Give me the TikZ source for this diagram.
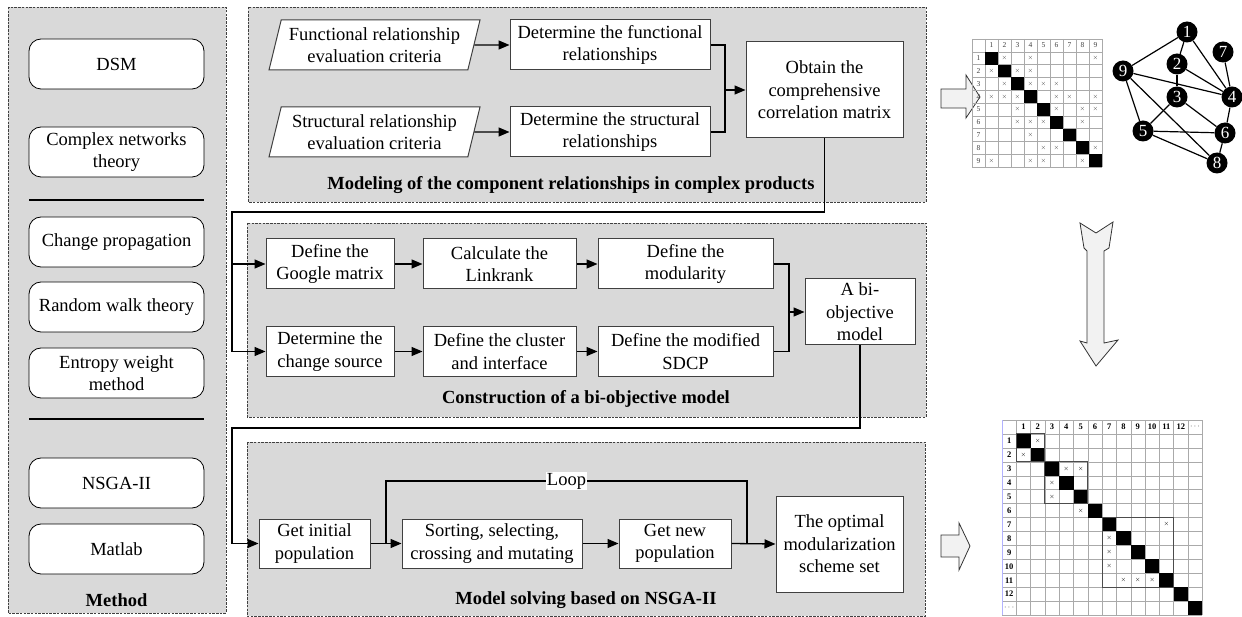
\documentclass[tikz,border=0pt]{standalone}
\usepackage{fontspec}
\setmainfont{Liberation Serif}
\usepackage{tikz}
\usetikzlibrary{calc, shapes.geometric, positioning, arrows.meta}

\definecolor{panelgray}{RGB}{217,217,217}
\definecolor{arrowgray}{RGB}{242,242,242}
\definecolor{framegray}{RGB}{64,64,64}
\definecolor{gridgray}{RGB}{170,170,170}

\begin{document}
\begin{tikzpicture}[x=1pt,y=-1pt,
  font=\fontsize{18.5}{22.5}\selectfont,
  panel/.style={draw=framegray, dash pattern=on 2.5pt off 1.2pt, fill=panelgray, line width=0.7pt},
  method/.style={draw=black, fill=white, rounded corners=12pt, minimum width=175, minimum height=50, align=center, inner sep=1pt, line width=0.8pt},
  box/.style={draw=framegray, fill=white, align=center, inner sep=1pt, line width=1pt},
  para/.style={trapezium, trapezium left angle=72, trapezium right angle=108, trapezium stretches body=true, draw=framegray, fill=white, align=center, inner sep=1pt, line width=1pt, minimum width=211, minimum height=50},
  title/.style={font=\fontsize{18.5}{22.5}\selectfont\bfseries},
  line/.style={line width=1.3pt},
  conn/.style={line width=1.3pt, -{Triangle[length=11pt,width=9pt]}},
  gnode/.style={circle, fill=black, text=white, minimum size=21, inner sep=0pt, font=\fontsize{17}{17}\selectfont},
  bigarrow/.style={draw=black!80, fill=arrowgray, line width=0.8pt, line join=miter}]
\useasboundingbox (0,0) rectangle (1242,617);

% panels
\draw[panel] (8,7) rectangle (226,613);
\draw[panel] (248,7) rectangle (926,202);
\draw[panel] (247,223) rectangle (926,417);
\draw[panel] (247,442) rectangle (925,616);

% method column
\node[method] (dsm) at (116.5,64) {DSM};
\node[method] (cnt) at (116.5,152) {Complex networks\\theory};
\draw[line] (29,200) -- (204,200);
\node[method] (chp) at (116.5,242) {Change propagation};
\node[method] (rwt) at (116.5,307) {Random walk theory};
\node[method] (ewm) at (116.5,373) {Entropy weight\\method};
\draw[line] (29,419) -- (204,419);
\node[method] (nsga) at (116.5,483) {NSGA-II};
\node[method] (mat) at (116.5,549) {Matlab};
\node[title] (mtitle) at (116.5,600) {Method};

% modeling of the component relationships
\node[para] (funcr) at (374.5,45) {Functional relationship\\evaluation criteria};
\node[para] (strcr) at (374.5,132) {Structural relationship\\evaluation criteria};
\node[box, minimum width=200, minimum height=50] (detf) at (610,45) {Determine the functional\\relationships};
\node[box, minimum width=200, minimum height=50] (dets) at (610,132) {Determine the structural\\relationships};
\node[box, minimum width=157, minimum height=96] (obtain) at (824.5,90) {Obtain the\\comprehensive\\correlation matrix};
\node[title] (t1) at (571,185) {Modeling of the component relationships in complex products};
\coordinate (j1) at (725,90);
\draw[conn] (funcr.east) -- (detf.west);
\draw[conn] (strcr.east) -- (dets.west);
\draw[line] (detf.east) -| (j1) |- (dets.east);
\draw[conn] (j1) -- (obtain.west);

% construction of a bi-objective model
\node[box, minimum width=128, minimum height=50] (google) at (330,264) {Define the\\Google matrix};
\node[box, minimum width=153, minimum height=50] (linkr) at (499.5,264) {Calculate the\\Linkrank};
\node[box, minimum width=175, minimum height=50] (modu) at (685.5,264) {Define the\\modularity};
\node[box, minimum width=128, minimum height=50] (chsrc) at (330,351.5) {Determine the\\change source};
\node[box, minimum width=153, minimum height=50] (clus) at (499.5,351.5) {Define the cluster\\and interface};
\node[box, minimum width=175, minimum height=50] (sdcp) at (685.5,351.5) {Define the modified\\SDCP};
\node[box, minimum width=110, minimum height=66] (biobj) at (860,312) {A bi-\\objective\\model};
\node[title] (t2) at (586,399) {Construction of a bi-objective model};
\coordinate (c1) at (232,212);
\coordinate (j2) at (789,312);
\draw[conn] (obtain.south) |- (c1) |- (chsrc.west);
\draw[conn] (c1) |- (google.west);
\draw[conn] (google.east) -- (linkr.west);
\draw[conn] (linkr.east) -- (modu.west);
\draw[conn] (chsrc.east) -- (clus.west);
\draw[conn] (clus.east) -- (sdcp.west);
\draw[line] (modu.east) -| (j2) |- (sdcp.east);
\draw[conn] (j2) -- (biobj.west);

% model solving based on NSGA-II
\node[box, minimum width=111, minimum height=49] (init) at (314.5,543.5) {Get initial\\population};
\node[box, minimum width=180, minimum height=49] (sort) at (492,543.5) {Sorting, selecting,\\crossing and mutating};
\node[box, minimum width=112, minimum height=49] (newp) at (675,543.5) {Get new\\population};
\node[box, minimum width=127, minimum height=96] (opt) at (839.5,544) {The optimal\\modularization\\scheme set};
\node[title] (t3) at (586,600) {Model solving based on NSGA-II};
\coordinate (c2) at (232,428);
\coordinate (j3) at (386,543.5);
\coordinate (j4) at (747,543.5);
\coordinate (l1) at (386,481);
\coordinate (l2) at (747,481);
\draw[conn] (biobj.south) |- (c2) |- (init.west);
\draw[conn] (init.east) -- (sort.west);
\draw[conn] (sort.east) -- (newp.west);
\draw[line] (j3) -- (l1) -- node[fill=white, inner sep=1pt] (loop) {Loop} (l2) -- (j4);
\draw[conn] (newp.east) -- (opt.west);

% big arrows
\draw[bigarrow] (941,89) -- (966,89) -- (966,75) -- (980,97) -- (966,118) -- (966,108) -- (941,108) -- cycle;
\draw[bigarrow] (941,535) -- (959,535) -- (959,523) -- (970,546) -- (959,570) -- (959,557) -- (941,557) -- cycle;
\draw[bigarrow] (1080,223) -- (1096,233) -- (1113,222) -- (1109,248) -- (1104,251) -- (1104,343) -- (1118,340) -- (1096,366) -- (1080,341) -- (1087,343) -- (1087,251) -- (1084,248) -- cycle;

% DSM of the product
\begin{scope}[shift={(972,39)}, x=13pt, y=-12.8pt]
  \foreach \k in {0,...,10} {
    \draw[gridgray, line width=0.4pt] (\k,0) -- (\k,10);
    \draw[gridgray, line width=0.4pt] (0,\k) -- (10,\k);
  }
  \foreach \n in {1,...,9} {
    \fill (\n,\n) rectangle ++(1,1);
    \node[font=\fontsize{7.5}{7.5}\selectfont, text=black!75] at (\n+0.5,0.5) {\n};
    \node[font=\fontsize{7.5}{7.5}\selectfont, text=black!75] at (0.5,\n+0.5) {\n};
  }
  \foreach \r/\c in {1/2,1/4,1/9,2/1,2/3,2/4,3/2,3/4,3/5,3/6,4/1,4/2,4/3,4/6,4/7,4/9,5/3,5/6,5/8,5/9,6/3,6/4,6/5,6/8,7/4,8/5,8/6,8/9,9/1,9/4,9/5,9/8}
    \node[font=\fontsize{6}{6}\selectfont, text=black!75, inner sep=0pt] at (\c+0.5,\r+0.5) {$\times$};
\end{scope}

% network of the product
\node[gnode] (g1) at (1187,32) {1};
\node[gnode] (g2) at (1177,64) {2};
\node[gnode] (g3) at (1177,97) {3};
\node[gnode] (g4) at (1232,97) {4};
\node[gnode] (g5) at (1143,131) {5};
\node[gnode] (g6) at (1225,133) {6};
\node[gnode] (g7) at (1223,52) {7};
\node[gnode] (g8) at (1217,163) {8};
\node[gnode] (g9) at (1123,71) {9};
\foreach \a/\b in {1/9,1/2,1/4,7/4,2/3,2/4,9/4,9/5,9/8,3/5,3/6,4/6,5/6,5/8,6/8}
  \draw[line width=1.2pt] (g\a) -- (g\b);

% modularized DSM
\begin{scope}[shift={(1002,420)}, x=14.3pt, y=-13.93pt]
  \foreach \k in {0,...,14} {
    \draw[gridgray, line width=0.4pt] (\k,0) -- (\k,14);
    \draw[gridgray, line width=0.4pt] (0,\k) -- (14,\k);
  }
  \draw[blue!30, line width=0.8pt] (0,0) -- (0,14);
  \foreach \n in {1,...,13}
    \fill (\n,\n) rectangle ++(1,1);
  \foreach \n in {1,...,12} {
    \node[font=\fontsize{8.5}{8.5}\selectfont\bfseries] at (\n+0.5,0.5) {\n};
    \node[font=\fontsize{8.5}{8.5}\selectfont\bfseries] at (0.5,\n+0.5) {\n};
  }
  \node[font=\fontsize{8.5}{8.5}\selectfont] at (13.5,0.5) {$\cdots$};
  \node[font=\fontsize{8.5}{8.5}\selectfont] at (0.5,13.5) {$\cdots$};
  \foreach \r/\c in {1/2,2/1,3/4,3/5,4/3,5/3,6/5,7/11,8/7,9/7,10/7,11/8,11/9,11/10}
    \node[font=\fontsize{6}{6}\selectfont, inner sep=0pt] at (\c+0.5,\r+0.5) {$\times$};
  \draw[black!70, line width=1.1pt] (1,1) rectangle (3,3);
  \draw[black!70, line width=1.1pt] (3,3) rectangle (6,6);
  \draw[black!70, line width=1.1pt] (7,7) rectangle (12,12);
\end{scope}
\end{tikzpicture}
\end{document}
